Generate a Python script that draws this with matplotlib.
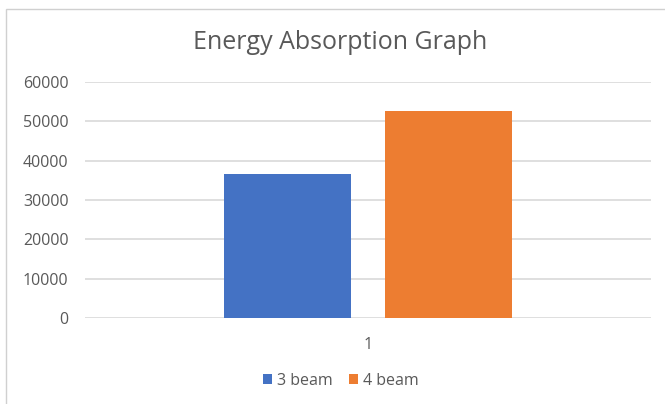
import matplotlib.pyplot as plt
from matplotlib.patches import Rectangle

# values
categories = ["1"]
series_names = ["3 beam", "4 beam"]
beam3 = [36700]
beam4 = [52600]
y_ticks = [0, 10000, 20000, 30000, 40000, 50000, 60000]

blue = "#4472C4"
orange = "#ED7D31"
text_gray = "#595959"
grid_gray = "#D9D9D9"

plt.rcParams["font.family"] = ["Open Sans", "DejaVu Sans"]

fig = plt.figure(figsize=(6.65, 4.04), dpi=100)
ax = fig.add_axes([0.128, 0.2129, 0.851, 0.584])

x = list(range(len(categories)))
width = 0.224
ax.bar([i - 0.142 for i in x], beam3, width, color=blue, label=series_names[0], zorder=3)
ax.bar([i + 0.142 for i in x], beam4, width, color=orange, label=series_names[1], zorder=3)

ax.set_xlim(-0.5, 0.5)
ax.set_ylim(0, 60000)
ax.set_yticks(y_ticks)
ax.set_xticks(x)
ax.set_xticklabels(categories)
ax.tick_params(axis="both", length=0, labelsize=11.5, colors=text_gray)
ax.tick_params(axis="x", pad=14)
ax.tick_params(axis="y", pad=12)
ax.yaxis.grid(True, color=grid_gray, linewidth=1.2, zorder=0)
for s in ax.spines.values():
    s.set_visible(False)

fig.text(0.511, 0.895, "Energy Absorption Graph", ha="center", va="center",
         fontsize=18, color=text_gray)

ax.legend(loc="center", bbox_to_anchor=(0.452, -0.265), ncol=2, frameon=False,
          fontsize=11.5, labelcolor=text_gray, handlelength=0.6, handleheight=0.6,
          handletextpad=0.3, columnspacing=1.0)

# chart area border (cropped on right and bottom)
fig.patches.append(Rectangle((0.009, -0.1), 1.2, 1.1 - 9 / 404, transform=fig.transFigure,
                             fill=False, edgecolor="#D0D0D0", linewidth=1.0))

fig.savefig("out.png", dpi=100)
